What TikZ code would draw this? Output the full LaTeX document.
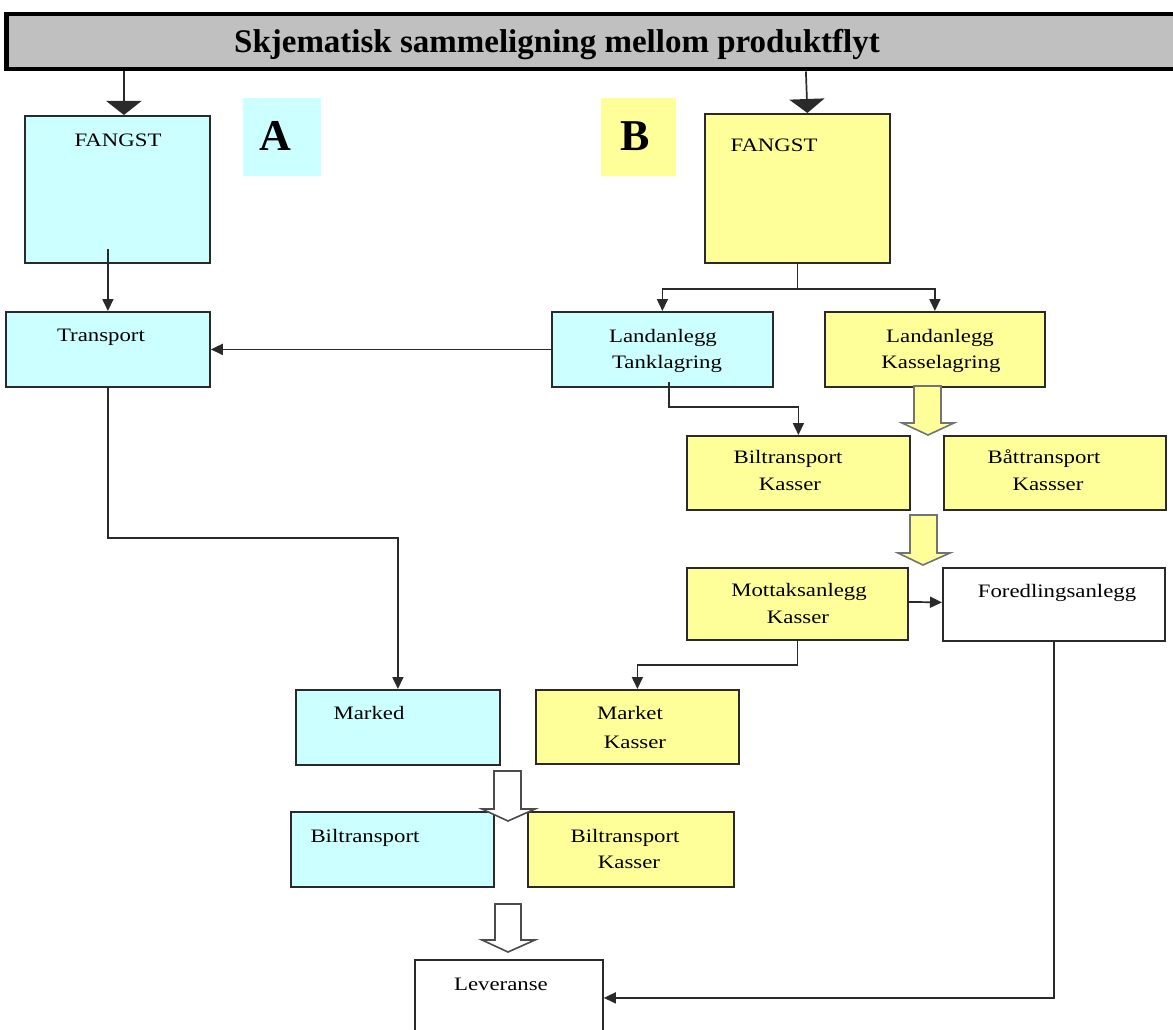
\documentclass[tikz,border=0pt]{standalone}
\usepackage{fontspec}
\setmainfont{Liberation Serif}[FakeStretch=1.2]
\newfontfamily\titlefont{Liberation Serif}
\usetikzlibrary{arrows.meta,calc}
\definecolor{cyanb}{HTML}{CCFFFF}
\definecolor{yelb}{HTML}{FFFF99}
\definecolor{grayb}{HTML}{C0C0C0}
\definecolor{linec}{HTML}{2A2A2A}
\tikzset{
  box/.style={draw=linec, line width=1.8pt, rectangle, inner sep=0pt, anchor=north west},
  tag/.style={rectangle, inner sep=0pt, anchor=north west},
  txt/.style={font=\fontsize{19}{23}\selectfont, inner sep=0pt, anchor=base},
  conn/.style={draw=linec, line width=1.7pt},
  arr/.style={conn, -{Triangle[length=12pt,width=11pt]}},
  bigarr/.style={conn, -{Triangle[length=14pt,width=35pt]}},
  blocky/.style={fill=yelb, draw=black!55, line width=1.6pt, line join=miter},
  blockw/.style={fill=white, draw=black!70, line width=1.6pt, line join=miter},
}
\begin{document}
\begin{tikzpicture}[x=1pt,y=-1pt]
\useasboundingbox (0,0) rectangle (1173,1030);
\clip (0,0) rectangle (1173,1030);
\fill[white] (0,0) rectangle (1173,1030);

% title bar
\node[draw=black, line width=4.5pt, fill=grayb, rectangle, inner sep=0pt, anchor=north west,
      minimum width=1190pt, minimum height=55pt] (title) at (4,12) {};
\node[inner sep=0pt, anchor=base, font=\titlefont\bfseries\fontsize{33}{36}\selectfont] (titletext) at (557,53)
  {Skjematisk sammeligning mellom produktflyt};

% A / B tags
\node[tag, fill=cyanb, minimum width=78pt, minimum height=78pt] (la) at (243,98) {};
\node[tag, fill=yelb, minimum width=75pt, minimum height=78pt] (lb) at (601,98) {};
\node[inner sep=0pt, anchor=base, font=\titlefont\bfseries\fontsize{44}{48}\selectfont] (tA) at (275,151) {A};
\node[inner sep=0pt, anchor=base, font=\titlefont\bfseries\fontsize{44}{48}\selectfont] (tB) at (635,151) {B};

% boxes
\node[box, fill=cyanb, minimum width=185pt, minimum height=147pt] (fa) at (24,115) {};
\node[box, fill=yelb,  minimum width=185pt, minimum height=149pt] (fb) at (704,113) {};
\node[box, fill=cyanb, minimum width=204pt, minimum height=75pt] (tr) at (5,311) {};
\node[box, fill=cyanb, minimum width=221pt, minimum height=75pt] (lt) at (551,311) {};
\node[box, fill=yelb,  minimum width=220pt, minimum height=75pt] (lk) at (824,311) {};
\node[box, fill=yelb,  minimum width=223pt, minimum height=74pt] (bk) at (686,435) {};
\node[box, fill=yelb,  minimum width=222pt, minimum height=74pt] (bt) at (943,435) {};
\node[box, fill=yelb,  minimum width=221pt, minimum height=72pt] (mk) at (686,567) {};
\node[box, fill=white, minimum width=222pt, minimum height=73pt] (fo) at (942,567) {};
\node[box, fill=cyanb, minimum width=204pt, minimum height=75pt] (ma) at (295,689) {};
\node[box, fill=yelb,  minimum width=203pt, minimum height=74pt] (mkk) at (535,689) {};
\node[box, fill=cyanb, minimum width=203pt, minimum height=75pt] (bl) at (290,811) {};
\node[box, fill=yelb,  minimum width=206pt, minimum height=75pt] (blk) at (527,811) {};
\node[box, fill=white, minimum width=188pt, minimum height=76pt] (lev) at (414,959) {};

% texts
\node[txt] (fa1) at (118,147) {FANGST};
\node[txt] (fb1) at (774,152) {FANGST};
\node[txt] (tr1) at (101,341) {Transport};
\node[txt] (lt1) at (663,342) {Landanlegg};
\node[txt] (lt2) at (667,368) {Tanklagring};
\node[txt] (lk1) at (940,342) {Landanlegg};
\node[txt] (lk2) at (941,368) {Kasselagring};
\node[txt] (bk1) at (788,463) {Biltransport};
\node[txt] (bk2) at (790,490) {Kasser};
\node[txt] (bt1) at (1044,463) {Båttransport};
\node[txt] (bt2) at (1048,490) {Kassser};
\node[txt] (mk1) at (799,596) {Mottaksanlegg};
\node[txt] (mk2) at (798,623) {Kasser};
\node[txt] (fo1) at (1057,597) {Foredlingsanlegg};
\node[txt] (ma1) at (369,719) {Marked};
\node[txt] (mkk1) at (630,719) {Market};
\node[txt] (mkk2) at (635,748) {Kasser};
\node[txt] (bl1) at (365,842) {Biltransport};
\node[txt] (blk1) at (625,842) {Biltransport};
\node[txt] (blk2) at (629,868) {Kasser};
\node[txt] (lev1) at (501,990) {Leveranse};

% connectors
\draw[bigarr] ($(title.south -| fa.north)+(6.5,0)$) -- ($(fa.north)+(6.5,0)$);
\draw[bigarr] ($(title.south -| fb.north)+(8.5,0)$) -- ($(fb.north)+(10,0)$);
\draw[arr] ($(fa.south)+(-9.5,-15)$) -- (tr.north);
\draw[conn] (fb.south) -- ++(0,25) coordinate (fbj);
\draw[arr] (fbj) -| (lt.north);
\draw[arr] (fbj) -| (lk.north);
\draw[arr] (lt.west) -- (tr.east);
\draw[arr] ($(lt.south)+(6.5,-6)$) |- ($(bk.north)+(0,-28)$) -- (bk.north);
\draw[arr] ($(mk.east)+(0,-2)$) -- ($(fo.west)+(0,-2)$);
\draw[arr] (mk.south) |- ($(mkk.north)+(0,-24)$) -- (mkk.north);
\draw[arr] (tr.south) |- ($(ma.north)+(0,-151)$) -- (ma.north);
\draw[arr] (fo.south) |- (lev.east);

% block arrows
\draw[blocky] (914,386) -- (914,423) -- (902,423) -- (928,435) -- (954,423) -- (941,423) -- (941,386) -- cycle;
\draw[blocky] (910,515) -- (910,553) -- (898,553) -- (923,565) -- (950,553) -- (937,553) -- (937,515) -- cycle;
\draw[blockw] (494,771) -- (494,809) -- (482,809) -- (508,821) -- (535,809) -- (521,809) -- (521,771) -- cycle;
\draw[blockw] (495,904) -- (495,940) -- (482,940) -- (508,952) -- (535,940) -- (521,940) -- (521,904) -- cycle;
\end{tikzpicture}
\end{document}
